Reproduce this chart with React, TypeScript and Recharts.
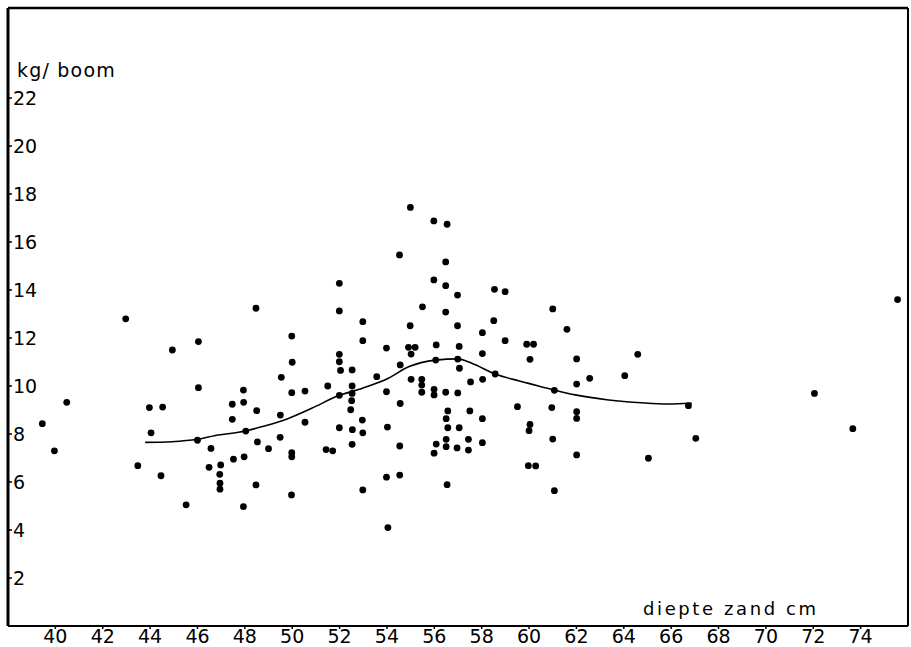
import React from "react";
import {
  ComposedChart,
  XAxis,
  YAxis,
  Scatter,
  Line,
  ReferenceLine,
} from "recharts";

// sand depth (cm) vs yield (kg per tree)
const depthCm: number[] = [
  39.45, 39.96, 40.48, 42.97, 43.48, 43.97, 44.04, 44.46, 44.53, 44.94,
  45.52, 46.04, 46.04, 46.0, 46.57, 46.49, 46.98, 46.94, 46.95, 46.95,
  47.47, 47.47, 47.52, 47.97, 47.94, 48.47, 48.53, 49.0, 49.49, 49.98,
  49.98, 48.04, 49.97, 48.47, 49.98, 50.0, 49.54, 47.94, 49.98, 47.95,
  48.5, 49.5, 51.99, 51.99, 52.98, 52.98, 53.98, 51.99, 51.99, 52.04,
  52.53, 53.57, 51.5, 52.53, 50.54, 53.98, 51.99, 52.53, 52.51, 52.47,
  50.54, 52.96, 51.99, 52.54, 52.98, 54.02, 51.43, 51.71, 52.53, 53.98,
  52.98, 54.04, 54.99, 55.98, 56.54, 54.53, 56.48, 55.98, 56.48, 56.98,
  58.54, 58.99, 55.5, 56.48, 54.98, 56.98, 58.51, 58.03, 58.99, 54.91,
  55.19, 55.02, 56.08, 57.05, 58.03, 54.56, 56.06, 56.99, 57.06, 58.57,
  55.02, 55.47, 55.47, 55.47, 55.99, 55.99, 56.48, 56.99, 57.53, 58.04,
  54.56, 59.51, 56.57, 56.5, 57.5, 58.03, 56.57, 57.05, 54.54, 56.5,
  56.08, 56.5, 56.96, 57.44, 57.44, 58.03, 55.99, 54.54, 56.54, 59.9,
  60.19, 60.04, 61.0, 61.6, 62.01, 62.01, 61.07, 60.96, 62.01, 62.01,
  60.04, 60.0, 61.0, 62.01, 59.97, 60.28, 64.59, 62.56, 64.04, 66.73,
  67.04, 65.04, 61.07, 72.05, 75.56, 73.67,
];

const yieldKg: number[] = [
  8.43, 7.3, 9.32, 12.8, 6.68, 9.1, 8.05, 6.26, 9.12, 11.5,
  5.05, 11.85, 9.93, 7.74, 7.4, 6.61, 6.71, 6.32, 5.95, 5.7,
  9.24, 8.61, 6.95, 7.05, 4.97, 5.88, 7.67, 7.39, 7.86, 7.22,
  7.05, 8.12, 5.46, 13.24, 12.08, 10.99, 10.36, 9.83, 9.72, 9.32,
  8.97, 8.79, 14.28, 13.13, 12.68, 11.89, 11.58, 11.32, 11.01, 10.65,
  10.67, 10.39, 10.0, 10.0, 9.79, 9.76, 9.61, 9.69, 9.39, 9.01,
  8.49, 8.58, 8.26, 8.18, 8.05, 8.29, 7.35, 7.3, 7.57, 6.2,
  5.67, 4.1, 17.44, 16.88, 16.74, 15.46, 15.17, 14.42, 14.18, 13.79,
  14.03, 13.93, 13.3, 13.08, 12.51, 12.51, 12.72, 12.22, 11.89, 11.61,
  11.61, 11.33, 11.71, 11.65, 11.35, 10.88, 11.08, 11.12, 10.74, 10.5,
  10.28, 10.28, 10.04, 9.74, 9.86, 9.63, 9.74, 9.71, 10.17, 10.28,
  9.27, 9.14, 8.96, 8.64, 8.96, 8.64, 8.26, 8.26, 7.5, 7.78,
  7.58, 7.47, 7.42, 7.78, 7.33, 7.64, 7.2, 6.29, 5.89, 11.74,
  11.74, 11.11, 13.21, 12.36, 11.13, 10.08, 9.82, 9.1, 8.93, 8.65,
  8.4, 8.14, 7.79, 7.13, 6.68, 6.67, 11.32, 10.32, 10.43, 9.18,
  7.82, 6.99, 5.64, 9.69, 13.6, 8.22,
];

// smoothed trend line
const trendDepth: number[] = [
  43.79, 44.91, 46.0, 46.88, 47.73, 48.71, 49.84, 50.82, 51.99, 52.94,
  54.06, 54.91, 56.06, 56.99, 57.58, 58.57, 59.55, 59.98, 61.07, 61.95,
  63.36, 64.76, 65.87, 66.87,
];
const trendYield: number[] = [
  7.65, 7.68, 7.78, 7.96, 8.07, 8.3, 8.65, 9.07, 9.61, 9.9,
  10.32, 10.8, 11.08, 11.13, 10.95, 10.5, 10.22, 10.11, 9.83, 9.63,
  9.42, 9.3, 9.25, 9.28,
];

const xTicks: number[] = [40, 42, 44, 46, 48, 50, 52, 54, 56, 58, 60, 62, 64, 66, 68, 70, 72, 74];
const yTicks: number[] = [2, 4, 6, 8, 10, 12, 14, 16, 18, 20, 22];

const yLabel = "kg/ boom";
const xLabel = "diepte zand cm";

const X_MIN = 38;
const X_MAX = 76;
const Y_MIN = 0;
const Y_MAX = 25.75;

const points = depthCm.map((x, i) => ({ x, y: yieldKg[i] }));
const trend = trendDepth.map((x, i) => ({ x, y: trendYield[i] }));

const FONT = "'DejaVu Sans', Verdana, sans-serif";

const Dot = (props: any) => {
  const { cx, cy } = props;
  if (cx == null || cy == null) return null;
  return <circle cx={cx} cy={cy} r={3.4} fill="#000" />;
};

export default function App() {
  return (
    <div
      style={{
        position: "absolute",
        left: 0,
        top: 0,
        width: 911,
        height: 647,
        background: "#fff",
        fontFamily: FONT,
      }}
    >
      <ComposedChart
        width={911}
        height={647}
        margin={{ top: 8, right: 3, bottom: 0, left: 8 }}
      >
        <XAxis
          type="number"
          dataKey="x"
          domain={[X_MIN, X_MAX]}
          ticks={xTicks}
          interval={0}
          allowDataOverflow
          height={21}
          axisLine={{ stroke: "#000", strokeWidth: 2 }}
          tickLine={{ stroke: "#000", strokeWidth: 1.5 }}
          tickSize={3}
          tickMargin={1}
          tick={{ fill: "#000", fontSize: 19, fontFamily: FONT }}
        />
        <YAxis
          type="number"
          dataKey="y"
          domain={[Y_MIN, Y_MAX]}
          ticks={yTicks}
          interval={0}
          allowDataOverflow
          mirror
          width={1}
          axisLine={{ stroke: "#000", strokeWidth: 3 }}
          tickLine={{ stroke: "#000", strokeWidth: 1.5 }}
          tickSize={4}
          tickMargin={1}
          tick={{ fill: "#000", fontSize: 19, fontFamily: FONT }}
        />
        <ReferenceLine y={Y_MAX} stroke="#000" strokeWidth={2.5} />
        <ReferenceLine x={X_MAX} stroke="#000" strokeWidth={2} />
        <Line
          data={trend}
          dataKey="y"
          type="monotone"
          stroke="#000"
          strokeWidth={1.6}
          dot={false}
          activeDot={false}
          isAnimationActive={false}
        />
        <Scatter
          data={points}
          dataKey="y"
          shape={Dot}
          isAnimationActive={false}
        />
      </ComposedChart>
      <div
        style={{
          position: "absolute",
          left: 17,
          top: 61,
          fontSize: 19,
          lineHeight: "19px",
          letterSpacing: 1.2,
          color: "#000",
          whiteSpace: "nowrap",
        }}
      >
        {yLabel}
      </div>
      <div
        style={{
          position: "absolute",
          left: 643,
          top: 600,
          fontSize: 18,
          lineHeight: "18px",
          letterSpacing: 2.6,
          color: "#000",
          whiteSpace: "nowrap",
        }}
      >
        {xLabel}
      </div>
    </div>
  );
}
